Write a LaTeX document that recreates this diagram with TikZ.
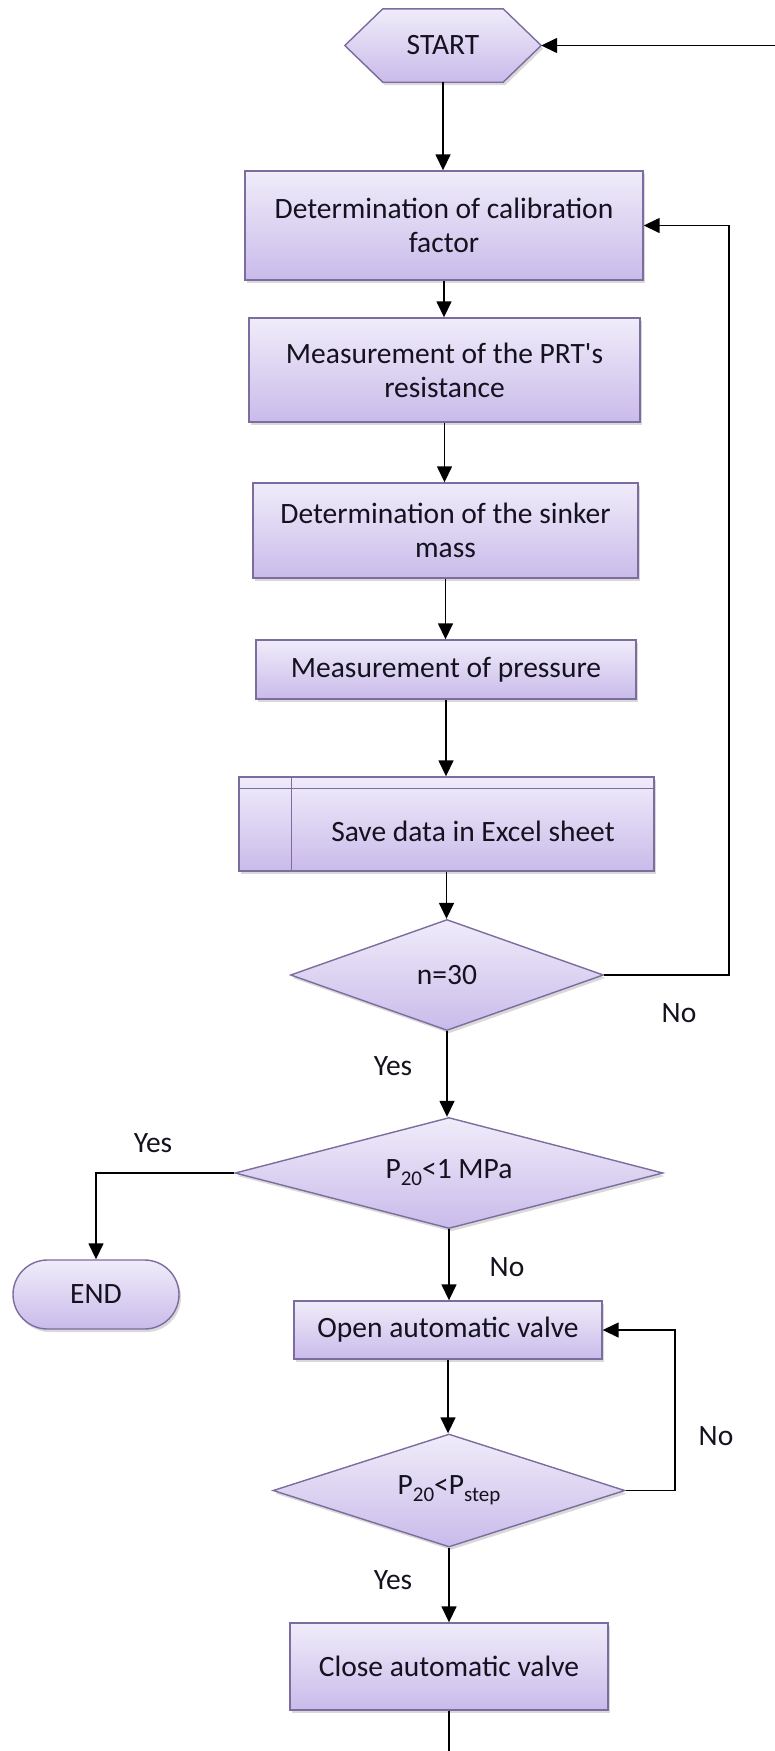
\documentclass[tikz,border=0pt]{standalone}
\usepackage{fontspec}
\setmainfont{Carlito}
\usetikzlibrary{shapes.geometric,shapes.misc,arrows.meta,shadows,backgrounds}
\definecolor{bordc}{RGB}{125,108,158}
\definecolor{topc}{RGB}{240,236,250}
\definecolor{botc}{RGB}{201,187,234}
\definecolor{txtc}{RGB}{20,18,30}
\newcommand\subtxt[1]{\raisebox{-7pt}{\fontsize{21}{21}\selectfont #1}}
\begin{document}
\begin{tikzpicture}[x=1pt,y=-1pt,
  font=\fontsize{29.5}{34}\selectfont,
  fc/.style={draw=bordc, line width=1.4pt, top color=topc, bottom color=botc,
    drop shadow={shadow xshift=2pt, shadow yshift=-3pt, opacity=0.3}},
  procbox/.style={fc, rectangle, inner sep=0pt, align=center, text=txtc},
  decis/.style={fc, diamond, aspect=3, inner sep=0pt, align=center, text=txtc},
  txt/.style={inner sep=0pt, align=center, text=txtc},
  conn/.style={line width=1.5pt, black},
  arr/.style={conn, -{Triangle[length=16pt,width=15pt]}}
]
\useasboundingbox (0,0) rectangle (775,1751);

% START hexagon
\node[txt, minimum width=196pt, minimum height=73pt] (start) at (443,45.5) {START};
\begin{scope}[on background layer]
\path[fc] (start.west) -- ([xshift=38pt]start.north west) -- ([xshift=-38pt]start.north east)
  -- (start.east) -- ([xshift=-38pt]start.south east) -- ([xshift=38pt]start.south west) -- cycle;
\end{scope}

\node[procbox, minimum width=398pt, minimum height=109pt] (b1) at (444,225.5) {Determination of calibration\\factor};
\node[procbox, minimum width=391pt, minimum height=104pt] (b2) at (444.5,370) {Measurement of the PRT\textquotesingle s\\resistance};
\node[procbox, minimum width=385pt, minimum height=95pt] (b3) at (445.5,530.5) {Determination of the sinker\\mass};
\node[procbox, minimum width=380pt, minimum height=59pt] (b4) at (446,669.5) {Measurement of pressure};
\node[procbox, minimum width=415pt, minimum height=94pt] (b5) at (446.5,824) {};
\draw[bordc, line width=1.4pt] ([xshift=53pt]b5.north west) -- ([xshift=53pt]b5.south west);
\draw[bordc, line width=1.4pt] ([yshift=-12pt]b5.north west) -- ([yshift=-12pt]b5.north east);
\node[txt] (b5t) at (473,831) {Save data in Excel sheet};

\node[decis, minimum width=313pt, minimum height=111pt] (d1) at (447,975) {n=30};
\node[decis, minimum width=428pt, minimum height=111pt] (d2) at (449,1173) {P\subtxt{20}<1 MPa};
\node[fc, rounded rectangle, minimum width=166pt, minimum height=69pt, inner sep=0pt, text=txtc] (endn) at (96,1294.5) {END};
\node[procbox, minimum width=308pt, minimum height=58pt] (b6) at (448,1330) {Open automatic valve};
\node[decis, minimum width=352pt, minimum height=113pt] (d3) at (449,1490.5) {P\subtxt{20}<P\subtxt{step}};
\node[procbox, minimum width=318pt, minimum height=87pt] (b7) at (449,1666.5) {Close automatic valve};

% free ends
\coordinate (rin) at (775,45.5);
\coordinate (loopA) at (729,975);
\coordinate (loopB) at (675,1490.5);
\coordinate (bot) at (449,1751);

% connectors
\draw[arr] (rin) -- (start.east);
\draw[arr] (start.south) -- (start.south |- b1.north);
\draw[arr] (b1.south) -- (b1.south |- b2.north);
\draw[arr] (b2.south) -- (b2.south |- b3.north);
\draw[arr] (b3.south) -- (b3.south |- b4.north);
\draw[arr] (b4.south) -- (b4.south |- b5.north);
\draw[arr] (b5.south) -- (b5.south |- d1.north);
\draw[arr] (d1.east) -- (loopA) |- (b1.east);
\draw[arr] (d1.south) -- (d1.south |- d2.north);
\draw[arr] (d2.west) -| (endn.north);
\draw[arr] (d2.south) -- (d2.south |- b6.north);
\draw[arr] (b6.south) -- (b6.south |- d3.north);
\draw[arr] (d3.east) -- (loopB) |- (b6.east);
\draw[arr] (d3.south) -- (d3.south |- b7.north);
\draw[conn] (b7.south) -- (bot);

% labels
\node[txt] (l1) at (679,1013) {No};
\node[txt] (l2) at (393,1066) {Yes};
\node[txt] (l3) at (153,1143) {Yes};
\node[txt] (l4) at (507,1267) {No};
\node[txt] (l5) at (716,1436) {No};
\node[txt] (l6) at (393,1580) {Yes};
\end{tikzpicture}
\end{document}
